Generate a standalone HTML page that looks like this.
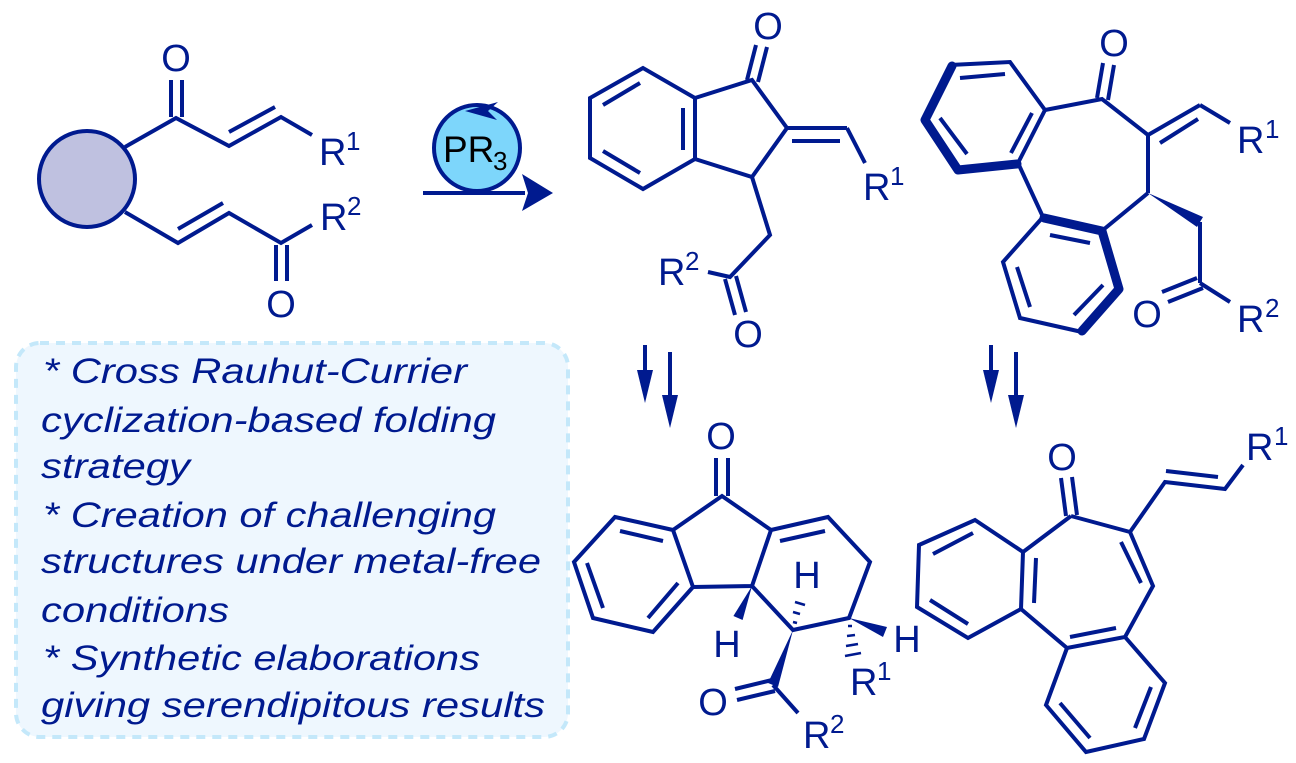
<!DOCTYPE html>
<html><head><meta charset="utf-8"><style>
html,body{margin:0;padding:0;background:#fff;}
svg{display:block;}
text{font-family:"Liberation Sans",Arial,sans-serif;fill:#001a8f;}
</style></head><body>
<svg width="1296" height="763" viewBox="0 0 1296 763" xmlns="http://www.w3.org/2000/svg">
<!-- info box -->
<rect x="16" y="343" width="552" height="394" rx="24" ry="24" fill="#eef7fe" stroke="#c4e8fa" stroke-width="4" stroke-dasharray="9,7"/>
<g font-style="italic" font-size="35">
<text x="43" y="383" textLength="424" lengthAdjust="spacingAndGlyphs">* Cross Rauhut-Currier</text>
<text x="41" y="432" textLength="455" lengthAdjust="spacingAndGlyphs">cyclization-based folding</text>
<text x="41" y="478" textLength="149" lengthAdjust="spacingAndGlyphs">strategy</text>
<text x="43" y="527" textLength="453" lengthAdjust="spacingAndGlyphs">* Creation of challenging</text>
<text x="41" y="573" textLength="500" lengthAdjust="spacingAndGlyphs">structures under metal-free</text>
<text x="41" y="622" textLength="188" lengthAdjust="spacingAndGlyphs">conditions</text>
<text x="43" y="670" textLength="437" lengthAdjust="spacingAndGlyphs">* Synthetic elaborations</text>
<text x="41" y="717" textLength="504" lengthAdjust="spacingAndGlyphs">giving serendipitous results</text>
</g>

<g stroke="#001a8f" stroke-width="4" fill="none" stroke-linecap="butt" stroke-linejoin="miter">
<!-- Structure 1 -->
<circle cx="87" cy="179" r="48" fill="#bfc1e0"/>
<polyline points="125,147 176,118 229,146 281,117 312,135"/>
<line x1="229" y1="132" x2="275" y2="107"/>
<line x1="171" y1="80" x2="171" y2="117"/><line x1="182" y1="80" x2="182" y2="117"/>
<polyline points="125,212 178,243 229,213 281,243 312,225"/>
<line x1="178" y1="229" x2="223" y2="203"/>
<line x1="276" y1="245" x2="276" y2="281"/><line x1="287" y1="245" x2="287" y2="281"/>

<!-- reaction arrow -->
<line x1="423" y1="193" x2="525" y2="193"/>
<circle cx="477" cy="148" r="43" fill="#7dd6fb"/>

<!-- Indanone -->
<polygon points="643,68 590,98 590,158 643,189 695,159 695,98"/>
<line x1="603" y1="105" x2="640" y2="83"/><line x1="603" y1="151" x2="640" y2="173"/><line x1="683" y1="108" x2="683" y2="150"/>
<polyline points="695,98 752,80 787,128 752,177 695,159"/>
<line x1="747" y1="80" x2="756" y2="45"/><line x1="758" y1="82" x2="767" y2="47"/>
<line x1="787" y1="128" x2="847" y2="128"/><line x1="792" y1="141" x2="840" y2="141"/>
<polyline points="847,128 865,163"/>
<polyline points="752,177 770,235 730,277 708,272"/>
<line x1="725" y1="279" x2="735" y2="315"/><line x1="736" y1="276" x2="746" y2="312"/>

<!-- Right-top dibenzo -->
<polyline points="1045,110 1102,99 1148,135 1148,193"/>
<polyline points="1148,193 1103,230"/>
<line x1="1043" y1="217" x2="1018" y2="163"/>
<line x1="1097" y1="98" x2="1103" y2="63"/><line x1="1108" y1="100" x2="1114" y2="65"/>
<polyline points="1045,110 1010,62 950,65"/>
<line x1="1018" y1="163" x2="1045" y2="110"/>
<line x1="960" y1="78" x2="1005" y2="74"/><line x1="940" y1="118" x2="967" y2="154"/><line x1="1011" y1="153" x2="1032" y2="113"/>
<polyline points="1082,332 1020,318 1003,262 1043,217"/>
<line x1="1050" y1="235" x2="1090" y2="243"/><line x1="1017" y1="267" x2="1030" y2="307"/><line x1="1074" y1="315" x2="1103" y2="285"/>
<line x1="1148" y1="135" x2="1200" y2="105"/><line x1="1160" y1="143" x2="1198" y2="119"/>
<line x1="1200" y1="105" x2="1230" y2="123"/>
<line x1="1200" y1="222" x2="1200" y2="283"/>
<line x1="1200" y1="283" x2="1230" y2="302"/>
<line x1="1197" y1="278" x2="1162" y2="292"/><line x1="1203" y1="288" x2="1168" y2="302"/>

<!-- Bottom-left -->
<polygon points="673,530 615,517 574,562 593,618 653,632 693,587"/>
<line x1="620" y1="531" x2="663" y2="541"/><line x1="587" y1="563" x2="603" y2="608"/><line x1="648" y1="618" x2="678" y2="583"/>
<polyline points="673,530 722,496 771,530 752,586 693,587"/>
<line x1="716" y1="458" x2="716" y2="496"/><line x1="728" y1="458" x2="728" y2="496"/>
<polyline points="771,530 828,517 870,562 849,618 793,630 752,586"/>
<line x1="780" y1="541" x2="825" y2="531"/>
<line x1="773" y1="685" x2="798" y2="713"/>
<line x1="772" y1="680" x2="735" y2="689"/><line x1="775" y1="691" x2="737" y2="700"/>

<!-- Bottom-right -->
<polyline points="1071,516 1023,552 1021,609 1067,648 1125,637 1153,586 1130,532 1071,516"/>
<line x1="1121" y1="542" x2="1141" y2="583"/><line x1="1070" y1="637" x2="1116" y2="628"/><line x1="1036" y1="558" x2="1034" y2="603"/>
<line x1="1066" y1="516" x2="1061" y2="478"/><line x1="1077" y1="515" x2="1072" y2="477"/>
<polyline points="1023,552 975,520 919,545 917,607 968,638 1021,609"/>
<line x1="933" y1="554" x2="973" y2="533"/><line x1="930" y1="600" x2="968" y2="624"/>
<polyline points="1125,637 1165,683 1144,739 1086,752 1046,705 1067,648"/>
<line x1="1060" y1="703" x2="1090" y2="738"/><line x1="1135" y1="728" x2="1151" y2="687"/>
<polyline points="1130,532 1165,482 1225,489 1243,465"/>
<line x1="1166" y1="471" x2="1218" y2="477"/>

<!-- down arrows -->
<line x1="645" y1="345" x2="645" y2="380"/>
<line x1="670" y1="352" x2="670" y2="405"/>
<line x1="991" y1="345" x2="991" y2="380"/>
<line x1="1016" y1="352" x2="1016" y2="405"/>
</g>

<!-- bold aromatic bonds -->
<g stroke="#001a8f" stroke-width="9" fill="none" stroke-linejoin="round" stroke-linecap="round">
<polyline points="952,66 925,120 958,170 1017,164"/>
<polyline points="1044,218 1102,231 1119,289 1082,331"/>
</g>

<g fill="#001a8f" stroke="none">
<polygon points="522,174 553,193 522,211 528,193"/>
<polygon points="637,370 653,370 645,403"/>
<polygon points="662,395 678,395 670,428"/>
<polygon points="983,370 999,370 991,403"/>
<polygon points="1008,395 1024,395 1016,428"/>
<!-- circle arrow head -->
<polygon points="465,111 498,102 488,111 497,120"/>
<polygon points="1148,193 1197,227 1203,217"/>
<!-- bottom-left wedges -->
<polygon points="752,586 742.6,620 733.4,616"/>
<polygon points="793,630 778,687 768,683"/>
<polygon points="849,618 883,637 887,627"/>
</g>
<g stroke="#001a8f" stroke-width="2.5">
<line x1="793" y1="622" x2="797" y2="623"/>
<line x1="793" y1="612" x2="800" y2="614"/>
<line x1="795" y1="602" x2="805" y2="605"/>
<line x1="848" y1="626" x2="852" y2="626"/>
<line x1="847" y1="636" x2="855" y2="635"/>
<line x1="846" y1="646" x2="858" y2="644"/>
<line x1="845" y1="656" x2="861" y2="653"/>
</g>

<g font-size="38">
<text x="176" y="71" text-anchor="middle">O</text>
<text x="319" y="165">R</text><text x="346" y="150" font-size="26">1</text>
<text x="320" y="230">R</text><text x="347" y="215" font-size="26">2</text>
<text x="281" y="317" text-anchor="middle">O</text>

<text x="768" y="39" text-anchor="middle">O</text>
<text x="863" y="200">R</text><text x="890" y="185" font-size="26">1</text>
<text x="658" y="285">R</text><text x="685" y="270" font-size="26">2</text>
<text x="748" y="347" text-anchor="middle">O</text>

<text x="1114" y="56" text-anchor="middle">O</text>
<text x="1237" y="153">R</text><text x="1265" y="138" font-size="26">1</text>
<text x="1147" y="327" text-anchor="middle">O</text>
<text x="1237" y="332">R</text><text x="1265" y="317" font-size="26">2</text>

<text x="721" y="449" text-anchor="middle">O</text>
<text x="807" y="588" text-anchor="middle">H</text>
<text x="727" y="657" text-anchor="middle">H</text>
<text x="907" y="652" text-anchor="middle">H</text>
<text x="850" y="695">R</text><text x="877" y="680" font-size="26">1</text>
<text x="713" y="715" text-anchor="middle">O</text>
<text x="803" y="748">R</text><text x="830" y="733" font-size="26">2</text>

<text x="1062" y="470" text-anchor="middle">O</text>
<text x="1246" y="460">R</text><text x="1274" y="445" font-size="26">1</text>
</g>
<text x="443" y="162" font-size="37" style="fill:#000">PR</text>
<text x="493" y="170" font-size="26" style="fill:#000">3</text>
</svg>
</body></html>
